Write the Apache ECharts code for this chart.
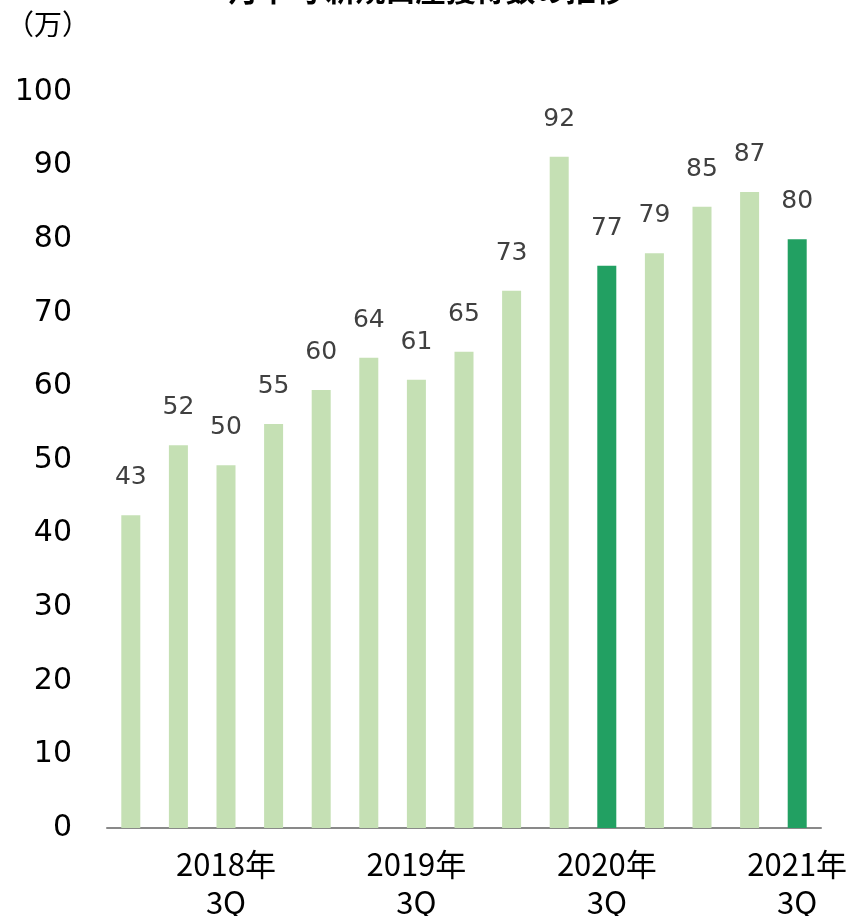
<!DOCTYPE html>
<html>
<head>
<meta charset="utf-8">
<script src="https://cdn.jsdelivr.net/npm/echarts@6/dist/echarts.min.js"></script>
<style>
  html, body { margin: 0; padding: 0; background: #fff; }
  #chart { width: 854px; height: 916px; }
</style>
</head>
<body>
<div id="chart"></div>
<script>
const categories = [
  '2018年\n1Q', '2018年\n2Q', '2018年\n3Q', '2018年\n4Q',
  '2019年\n1Q', '2019年\n2Q', '2019年\n3Q', '2019年\n4Q',
  '2020年\n1Q', '2020年\n2Q', '2020年\n3Q', '2020年\n4Q',
  '2021年\n1Q', '2021年\n2Q', '2021年\n3Q'
]
// bar heights
const values = [42.5, 52.0, 49.3, 54.9, 59.5, 63.9, 60.9, 64.7, 73.0, 91.2, 76.4, 78.1, 84.4, 86.4, 80.0]
// numbers printed above the bars
const labels = [43, 52, 50, 55, 60, 64, 61, 65, 73, 92, 77, 79, 85, 87, 80]
const highlighted = [10, 14]
const yTicks = { min: 0, max: 100, interval: 10 }

const chart = echarts.init(document.getElementById('chart'))

const option = {
  animation: false,
  graphic: [
    {
      type: 'text',
      left: 'center',
      top: -25,
      style: {
        text: '月平均 新規口座獲得数の推移',
        font: 'bold 30px "Noto Sans CJK JP"',
        fill: '#000'
      }
    },
    {
      type: 'text',
      left: 6,
      top: 10,
      style: {
        text: '（万）',
        font: '28px "Noto Sans CJK JP"',
        fill: '#000'
      }
    }
  ],
  grid: {
    left: 107,
    right: 33,
    top: 92,
    bottom: 88,
    outerBoundsMode: 'none'
  },
  xAxis: {
    type: 'category',
    data: categories,
    axisLine: { lineStyle: { color: '#898989', width: 2 } },
    axisTick: { show: false },
    axisLabel: {
      interval: (i) => i % 4 === 2,
      margin: 17,
      fontSize: 31,
      lineHeight: 38,
      color: '#000',
      fontFamily: 'Noto Sans CJK JP'
    }
  },
  yAxis: {
    type: 'value',
    min: yTicks.min,
    max: yTicks.max,
    interval: yTicks.interval,
    splitLine: { show: false },
    axisLine: { show: false },
    axisTick: { show: false },
    axisLabel: {
      margin: 35,
      fontSize: 30,
      color: '#000',
      fontFamily: 'DejaVu Sans'
    }
  },
  series: [
    {
      type: 'bar',
      barWidth: 19,
      data: values.map((v, i) => ({
        value: v,
        itemStyle: { color: highlighted.includes(i) ? '#22a062' : '#c5e0b4' }
      })),
      label: {
        show: true,
        position: 'top',
        distance: 25,
        fontSize: 25,
        color: '#404040',
        fontFamily: 'DejaVu Sans',
        formatter: (p) => labels[p.dataIndex]
      }
    }
  ]
}

chart.setOption(option)
</script>
</body>
</html>
